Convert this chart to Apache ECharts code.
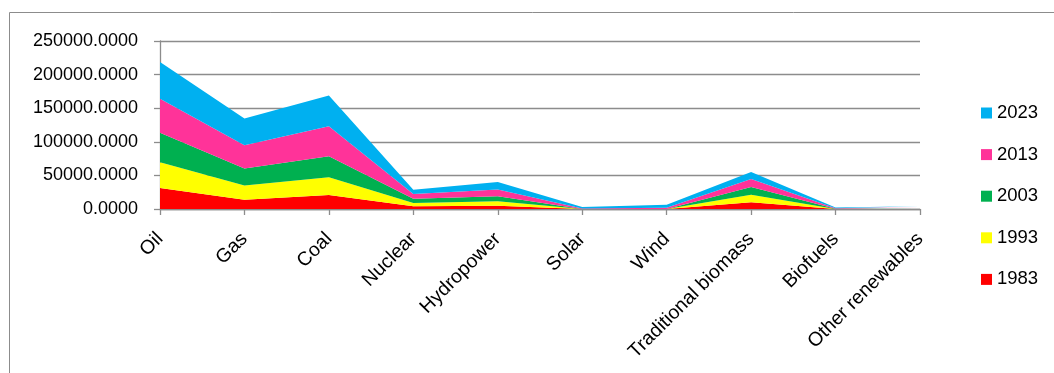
<!DOCTYPE html>
<html>
<head>
<meta charset="utf-8">
<script src="https://cdn.jsdelivr.net/npm/echarts@6/dist/echarts.min.js"></script>
<style>
html,body{margin:0;padding:0;background:#fff;}
#chart{width:1054px;height:373px;}
</style>
</head>
<body>
<div id="chart"></div>
<script>
const categories = ['Oil','Gas','Coal','Nuclear','Hydropower','Solar','Wind','Traditional biomass','Biofuels','Other renewables'];
const years = ['1983','1993','2003','2013','2023'];
const y1983 = [31300, 13900, 20900, 4000, 5000, 10, 0, 9900, 50, 300];
const y1993 = [38300, 20900, 26300, 4900, 6500, 20, 10, 11400, 80, 500];
const y2003 = [43700, 25300, 31300, 6500, 7600, 100, 150, 11400, 180, 700];
const y2013 = [50700, 34800, 44800, 6900, 10000, 600, 1600, 11900, 750, 1200];
const y2023 = [54700, 39800, 45700, 6500, 11000, 2400, 4600, 10400, 1100, 1500];
const yTicks = [0, 50000, 100000, 150000, 200000, 250000];

const seriesData = [y1983, y1993, y2003, y2013, y2023];
const colors = ['#FF0000', '#FFFF00', '#00B050', '#FF3399', '#00B0F0'];
const FONT = 'Liberation Sans';

const chart = echarts.init(document.getElementById('chart'), null, {renderer: 'canvas'});
chart.setOption({
  animation: false,
  backgroundColor: '#fff',
  graphic: [{
    type: 'rect',
    shape: {x: 9.5, y: 12.5, width: 1100, height: 400},
    style: {fill: 'none', stroke: '#8c8c8c', lineWidth: 1},
    silent: true,
    z: -10
  }],
  grid: {left: 160, right: 134, top: 41, bottom: 164, containLabel: false},
  legend: {
    orient: 'vertical',
    left: 981,
    top: 103,
    data: ['2023','2013','2003','1993','1983'],
    icon: 'rect',
    itemWidth: 11,
    itemHeight: 11,
    itemGap: 21.6,
    textStyle: {fontFamily: FONT, fontSize: 18.5, color: '#000', lineHeight: 20, padding: [0,0,0,0]},
    padding: 0
  },
  xAxis: {
    type: 'category',
    data: categories,
    boundaryGap: false,
    axisLine: {lineStyle: {color: '#8c8c8c', width: 1.3}},
    axisTick: {show: true, length: 6, alignWithLabel: true, lineStyle: {color: '#8c8c8c', width: 1.3}},
    axisLabel: {rotate: 45, interval: 0, margin: 27, fontFamily: FONT, fontSize: 19.5, color: '#000'},
    splitLine: {show: false}
  },
  yAxis: {
    type: 'value',
    min: 0,
    max: yTicks[yTicks.length - 1],
    interval: yTicks[1] - yTicks[0],
    axisLine: {show: true, lineStyle: {color: '#8c8c8c', width: 1.3}},
    axisTick: {show: true, length: 6, lineStyle: {color: '#8c8c8c', width: 1.3}},
    axisLabel: {margin: 22, fontFamily: FONT, fontSize: 18, color: '#000', formatter: v => v.toFixed(4)},
    splitLine: {show: true, lineStyle: {color: '#8c8c8c', width: 1.3}}
  },
  series: years.map((y, i) => ({
    name: y,
    type: 'line',
    stack: 'total',
    data: seriesData[i],
    symbol: 'none',
    lineStyle: {width: 0},
    areaStyle: {color: colors[i], opacity: 1},
    itemStyle: {color: colors[i]},
    z: 2
  }))
});
</script>
</body>
</html>
